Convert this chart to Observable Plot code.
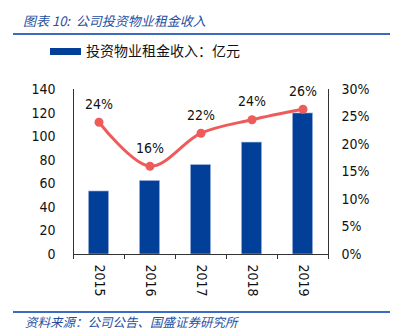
<!DOCTYPE html>
<html><head><meta charset="utf-8">
<script src="https://cdn.jsdelivr.net/npm/d3@7"></script>
<script src="https://cdn.jsdelivr.net/npm/@observablehq/plot@0.6"></script>
<style>
body{margin:0;background:#fff;}
#wrap{position:relative;width:395px;height:334px;overflow:hidden;font-family:"Noto Sans CJK SC",sans-serif;}
.title{position:absolute;left:23px;top:11px;font-size:13px;color:#1f4f9f;font-style:italic;white-space:nowrap;line-height:20px;}
.hr{position:absolute;left:13px;width:377px;height:1.5px;background:#3b6cc0;}
.leg{position:absolute;left:50px;top:40px;height:20px;font-size:14px;color:#111;white-space:nowrap;line-height:20px;}
.leg span.sw{display:inline-block;width:31px;height:7px;background:#023f99;vertical-align:middle;margin-right:5px;position:relative;top:-1px;}
.foot{position:absolute;left:25px;top:312px;font-size:12.5px;color:#1f4f9f;font-style:italic;white-space:nowrap;line-height:20px;}
#chart{position:absolute;left:0;top:60px;}
</style></head>
<body><div id="wrap">
<div class="title">图表 10:&nbsp; 公司投资物业租金收入</div>
<div class="hr" style="top:33px"></div>
<div class="leg"><span class="sw"></span>投资物业租金收入：亿元</div>
<div id="chart"></div>
<div class="hr" style="top:311px"></div>
<div class="foot">资料来源：公司公告、国盛证券研究所</div>
</div>
<script>
const years = [2015, 2016, 2017, 2018, 2019];
const rent = [53.5, 62.5, 76, 95, 119.7];
const growth = [24.05, 16.05, 22.05, 24.5, 26.4];
const growthLabels = ["24%", "16%", "22%", "24%", "26%"];
const leftTicks = [0, 20, 40, 60, 80, 100, 120, 140];
const rightTicks = [0, 5, 10, 15, 20, 25, 30];

const yMax = 140, pMax = 30;
const toY = p => p * yMax / pMax;
const bars = years.map((y, i) => ({year: y, value: rent[i]}));
const line = years.map((y, i) => ({year: y, pct: growth[i], label: growthLabels[i]}));
const edges = [years[0] - 0.5, ...years.map(y => y + 0.5)];
const font = `"DejaVu Sans Condensed","Liberation Sans",sans-serif`;

const chart = Plot.plot({
  width: 395, height: 245,
  marginLeft: 73, marginRight: 67, marginTop: 29, marginBottom: 51,
  style: {fontFamily: font, fontSize: "14px", color: "#111", background: "transparent"},
  x: {domain: [edges[0], edges[edges.length - 1]], axis: null, label: null},
  y: {domain: [0, yMax], axis: null, label: null},
  marks: [
    Plot.rectY(bars, {x1: d => d.year - 0.2, x2: d => d.year + 0.2, y: "value", fill: "#023f99", stroke: "#b7c8e8", strokeWidth: 0.6}),
    Plot.ruleX([edges[0], edges[edges.length - 1]], {y1: 0, y2: yMax, stroke: "#333", strokeWidth: 1}),
    Plot.ruleY([0], {stroke: "#333", strokeWidth: 1}),
    Plot.axisX({ticks: edges, tickSize: 5, tickFormat: () => "", stroke: "#333", label: null}),
    Plot.axisX({ticks: years, tickSize: 0, tickPadding: 10, tickRotate: 90, tickFormat: d => String(d), fontSize: 14, label: null}),
    Plot.axisY({ticks: leftTicks, anchor: "left", tickSize: 0, tickPadding: 18, fontSize: 14, label: null}),
    Plot.axisY({ticks: rightTicks.map(toY), anchor: "right", tickSize: 0, tickPadding: 13, fontSize: 14, label: null,
      tickFormat: d => Math.round(d * pMax / yMax) + "%"}),
    Plot.line(line, {x: "year", y: d => toY(d.pct), stroke: "#ef5b5b", strokeWidth: 3, curve: "catmull-rom"}),
    Plot.dot(line, {x: "year", y: d => toY(d.pct), r: 4.5, fill: "#ef5b5b"}),
    Plot.text(line, {x: "year", y: d => toY(d.pct), text: "label", dy: -18, fontSize: 14, fill: "#111"})
  ]
});
document.getElementById("chart").appendChild(chart);
</script>
</body></html>
